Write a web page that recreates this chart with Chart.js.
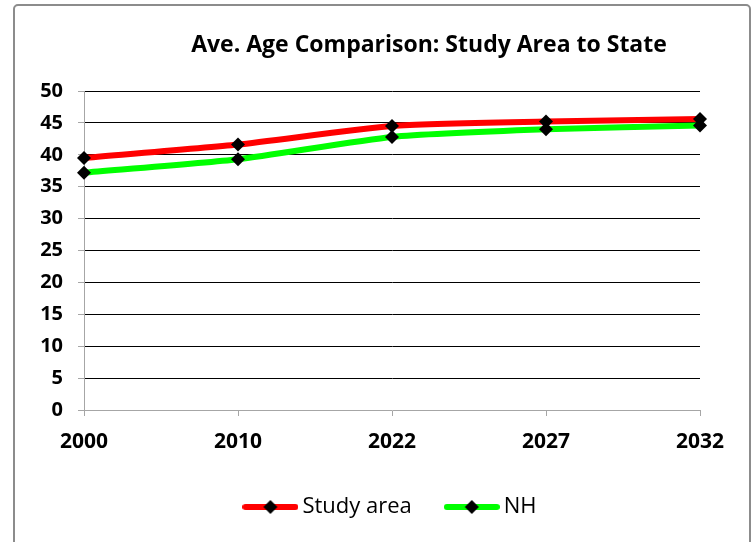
<!DOCTYPE html>
<html>
<head>
<meta charset="utf-8">
<script src="https://cdn.jsdelivr.net/npm/chart.js@4"></script>
<style>
html,body{margin:0;padding:0;background:#fff;}
#wrap{position:relative;width:756px;height:542px;}
</style>
</head>
<body>
<div id="wrap"><canvas id="c" width="756" height="542"></canvas></div>
<script>
const title = "Ave. Age Comparison: Study Area to State";
const years = ["2000", "2010", "2022", "2027", "2032"];
const studyArea = [39.5, 41.6, 44.5, 45.2, 45.6];
const nh = [37.2, 39.3, 42.8, 44.0, 44.6];
const yTicks = [0, 5, 10, 15, 20, 25, 30, 35, 40, 45, 50];

const FONT = "'Open Sans', 'Liberation Sans', sans-serif";

function legendIcon(color) {
  const cv = document.createElement('canvas');
  cv.width = 56; cv.height = 18;
  const g = cv.getContext('2d');
  g.strokeStyle = color; g.lineWidth = 6; g.lineCap = 'round';
  g.beginPath(); g.moveTo(3, 9); g.lineTo(53, 9); g.stroke();
  g.fillStyle = '#000';
  g.beginPath(); g.moveTo(28, 2); g.lineTo(35, 9); g.lineTo(28, 16); g.lineTo(21, 9); g.closePath(); g.fill();
  return cv;
}

const frame = {
  id: 'frame',
  beforeDraw(chart) {
    const g = chart.ctx;
    g.save();
    g.fillStyle = '#fff';
    g.fillRect(0, 0, chart.width, chart.height);
    g.strokeStyle = '#8c8c8c';
    g.lineWidth = 2;
    g.beginPath();
    g.roundRect(14, 5, 736, 560, 4);
    g.stroke();
    g.restore();
    // shift legend block so it is centred like the reference
    if (chart.legend) { chart.legend.left += 38; chart.legend.right += 38; }
  },
  afterDraw(chart) {
    const g = chart.ctx;
    g.save();
    g.fillStyle = '#000';
    g.font = "bold 23px " + FONT;
    g.textAlign = 'center';
    g.textBaseline = 'middle';
    g.fillText(title, 429, 45);
    g.restore();
  }
};

new Chart(document.getElementById('c'), {
  type: 'line',
  data: {
    labels: years,
    datasets: [
      { label: 'Study area', data: studyArea, borderColor: '#ff0000', backgroundColor: '#000',
        borderWidth: 6, pointStyle: 'rectRot', pointRadius: 7, pointHoverRadius: 7,
        pointBackgroundColor: '#000', pointBorderColor: '#000', pointBorderWidth: 0,
        tension: 0.2, order: 2 },
      { label: 'NH', data: nh, borderColor: '#00ff00', backgroundColor: '#000',
        borderWidth: 6, pointStyle: 'rectRot', pointRadius: 7, pointHoverRadius: 7,
        pointBackgroundColor: '#000', pointBorderColor: '#000', pointBorderWidth: 0,
        tension: 0.2, order: 1 }
    ]
  },
  options: {
    responsive: false,
    animation: false,
    layout: { padding: { left: 10, right: 56, top: 91, bottom: 14 } },
    plugins: {
      title: { display: false },
      tooltip: { enabled: false },
      legend: {
        position: 'bottom',
        labels: {
          usePointStyle: true,
          pointStyleWidth: 42,
          boxHeight: 18,
          padding: 39,
          color: '#000',
          font: { family: FONT, size: 22 },
          generateLabels(chart) {
            return chart.data.datasets.map((ds, i) => ({
              text: ds.label,
              fillStyle: ds.borderColor,
              strokeStyle: ds.borderColor,
              lineWidth: 0,
              pointStyle: legendIcon(ds.borderColor),
              hidden: false,
              datasetIndex: i,
              fontColor: '#000'
            }));
          }
        }
      }
    },
    scales: {
      x: {
        offset: false,
        afterFit(s) { s.height = 47; },
        grid: { drawOnChartArea: false, drawTicks: true, tickLength: 6, tickColor: '#a6a6a6' },
        border: { color: '#a6a6a6', width: 1 },
        ticks: { color: '#000', font: { family: FONT, size: 21, weight: 'bold' }, padding: 13, maxRotation: 0 }
      },
      y: {
        min: 0, max: 50,
        afterFit(s) { s.width = 74; },
        afterBuildTicks(s) { s.ticks = yTicks.map(v => ({ value: v })); },
        grid: {
          color: ctx => ctx.tick && ctx.tick.value === 0 ? 'rgba(0,0,0,0)' : '#000',
          lineWidth: 1, drawTicks: true, tickLength: 6, tickColor: '#a6a6a6'
        },
        border: { color: '#a6a6a6', width: 1 },
        ticks: { color: '#000', font: { family: FONT, size: 20, weight: 'bold' }, padding: 15 }
      }
    }
  },
  plugins: [frame]
});
</script>
</body>
</html>
